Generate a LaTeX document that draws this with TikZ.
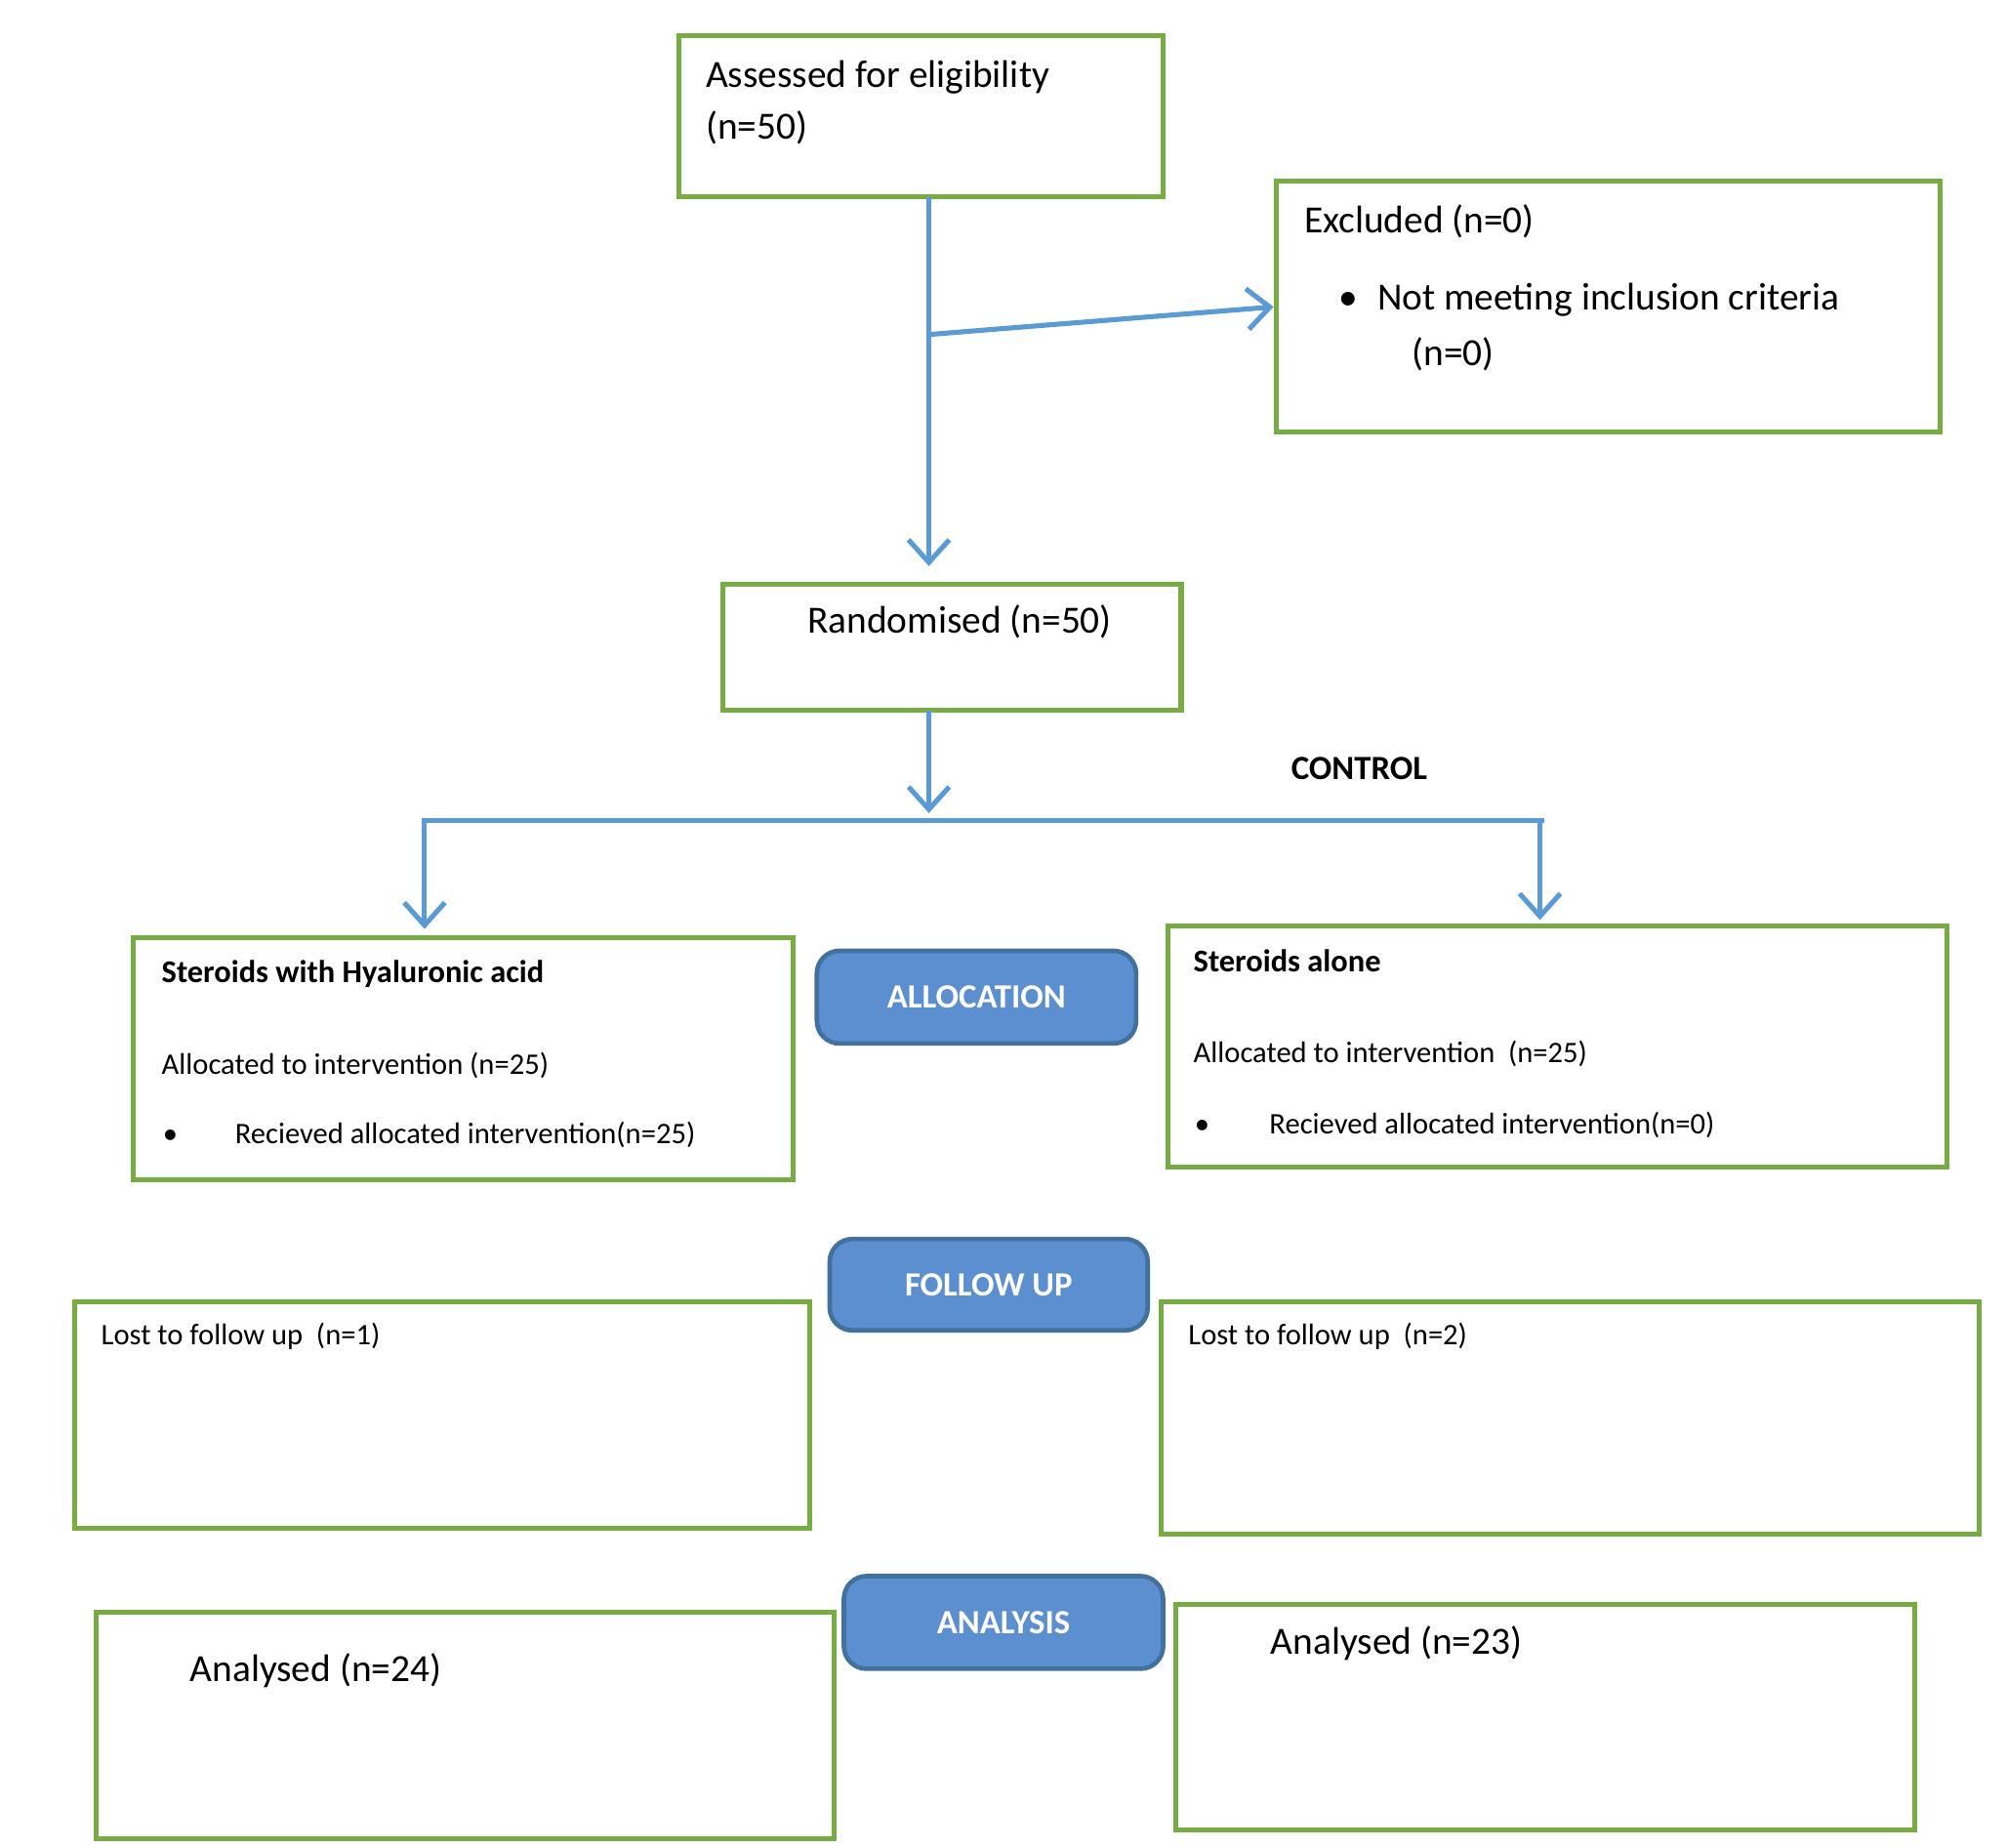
\documentclass[tikz,border=0pt]{standalone}
\usepackage{fontspec}
\setmainfont{Carlito}
\usetikzlibrary{arrows.meta,positioning}
\definecolor{boxgreen}{HTML}{77AC43}
\definecolor{flowblue}{HTML}{5B9BD5}
\definecolor{btnfill}{HTML}{5B8FD0}
\definecolor{btnline}{HTML}{41719C}
\tikzset{
  box/.style    = {draw=boxgreen, line width=1.1pt, rectangle, inner sep=0pt},
  stage/.style  = {draw=btnline, fill=btnfill, line width=1pt, rounded corners=5pt,
                   text=white, font=\fontsize{7.5}{9}\selectfont\bfseries, inner sep=0pt},
  big/.style    = {anchor=base west, inner sep=0pt, font=\fontsize{8.5}{11}\selectfont},
  small/.style  = {anchor=base west, inner sep=0pt, font=\fontsize{6.6}{8}\selectfont},
  head/.style   = {anchor=base west, inner sep=0pt, font=\fontsize{7}{8}\selectfont\bfseries},
  flow/.style   = {draw=flowblue, line width=1.1pt},
  arr/.style    = {flow, -{Straight Barb[length=5pt,width=9pt]}}
}
\begin{document}
\begin{tikzpicture}[x=0.01cm, y=-0.01cm]
\useasboundingbox (0,0) rectangle (1560,1436);

% boxes
\node[box, minimum width=3.76cm, minimum height=1.25cm] (assess) at (716,90.5) {};
\node[box, minimum width=5.16cm, minimum height=1.95cm] (excl)   at (1250,238.5) {};
\node[box, minimum width=3.56cm, minimum height=0.98cm] (rand)   at (740,503) {};
\node[box, minimum width=5.12cm, minimum height=1.88cm] (allocL) at (360,823) {};
\node[box, minimum width=6.05cm, minimum height=1.87cm] (allocR) at (1210.5,813.5) {};
\node[box, minimum width=5.71cm, minimum height=1.76cm] (lostL)  at (343.5,1100) {};
\node[box, minimum width=6.35cm, minimum height=1.80cm] (lostR)  at (1220.5,1102) {};
\node[box, minimum width=5.73cm, minimum height=1.76cm] (anaL)   at (361.5,1341) {};
\node[box, minimum width=5.74cm, minimum height=1.75cm] (anaR)   at (1201,1334.5) {};

% stage buttons
\node[stage, minimum width=2.48cm, minimum height=0.72cm] (sAlloc)  at (759,775) {ALLOCATION};
\node[stage, minimum width=2.47cm, minimum height=0.71cm] (sFollow) at (768.5,998.5) {FOLLOW UP};
\node[stage, minimum width=2.48cm, minimum height=0.72cm] (sAna)    at (780,1261) {ANALYSIS};

% texts
\node[big] (tAssess1) at (548,68) {Assessed for eligibility};
\node[big] (tAssess2) at (548,108) {(n=50)};
\node[big] (tExcl1) at (1013,181) {Excluded (n=0)};
\node[big] (tExclB) at (1040,241) {\textbullet};
\node[big] (tExcl2) at (1070,241) {Not meeting inclusion criteria};
\node[big] (tExcl3) at (1097,284) {(n=0)};
\node[big] (tRand) at (627,492) {Randomised (n=50)};
\node[anchor=base west, inner sep=0pt, font=\fontsize{7.5}{9}\selectfont\bfseries] (tCtrl) at (1003,606) {CONTROL};

\node[head]  (tL1) at (125,764) {Steroids with Hyaluronic acid};
\node[small] (tL2) at (125,835) {Allocated to intervention (n=25)};
\node[small] (tLB) at (126,889) {\textbullet};
\node[small] (tL3) at (182,889) {Recieved allocated intervention(n=25)};
\node[head]  (tR1) at (927,755) {Steroids alone};
\node[small] (tR2) at (927,826) {Allocated to intervention\ \ (n=25)};
\node[small] (tRB) at (928,881) {\textbullet};
\node[small] (tR3) at (986,881) {Recieved allocated intervention(n=0)};

\node[small] (tLostL) at (78,1045) {Lost to follow up\ \ (n=1)};
\node[small] (tLostR) at (923,1045) {Lost to follow up\ \ (n=2)};
\node[big] (tAnaL) at (147,1307) {Analysed (n=24)};
\node[big] (tAnaR) at (987,1286) {Analysed (n=23)};

% connectors
\coordinate (jExcl) at (722,260);
\coordinate (jTop) at (722,153);
\coordinate (jRand) at (722,552);
\coordinate (jSplit) at (722,632);
\coordinate (bL) at (328,638);
\coordinate (bR) at (1200,638);
\draw[arr] (jTop) -- (722,440);
\draw[arr] (jExcl) -- (excl.west);
\draw[arr] (jRand) -- (jSplit);
\draw[flow] (bL) -- (bR);
\draw[arr] (330,638) -- (330,722);
\draw[arr] (1197,638) -- (1197,715);
\end{tikzpicture}
\end{document}
